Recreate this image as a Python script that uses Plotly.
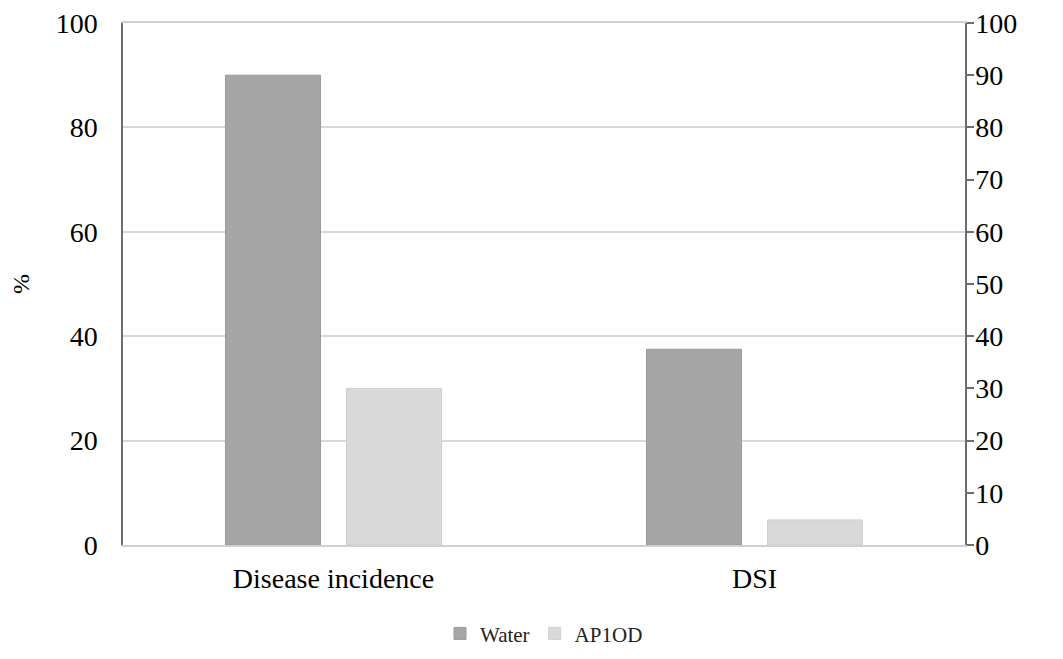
import plotly.graph_objects as go

categories = ["Disease incidence", "DSI"]
water = [90, 37.5]
ap1od = [30, 4.8]
left_ticks = [0, 20, 40, 60, 80, 100]
right_ticks = [0, 10, 20, 30, 40, 50, 60, 70, 80, 90, 100]

FONT = "Liberation Serif"

fig = go.Figure()
fig.add_trace(go.Bar(x=categories, y=water, name="Water",
                     marker=dict(color="#a6a6a6", line=dict(color="#9a9a9a", width=1))))
fig.add_trace(go.Bar(x=categories, y=ap1od, name="AP1OD",
                     marker=dict(color="#d9d9d9", line=dict(color="#cfcfcf", width=1))))
# invisible trace to carry the secondary axis
fig.add_trace(go.Scatter(x=categories, y=[None, None], yaxis="y2", showlegend=False,
                         hoverinfo="skip", mode="markers", marker=dict(opacity=0)))

fig.update_layout(
    width=1063, height=659,
    margin=dict(l=115, r=106, t=15, b=122, autoexpand=False),
    paper_bgcolor="white", plot_bgcolor="white",
    barmode="group", bargap=0.425, bargroupgap=0.215,
    font=dict(family=FONT, color="black", size=28),
    xaxis=dict(showline=True, mirror=True, linecolor="#d0d0d0", linewidth=1.5, ticks="",
               tickfont=dict(size=28, family=FONT), showgrid=False, automargin=False,
               ticklabelstandoff=8),
    yaxis=dict(range=[0, 100], tickvals=left_ticks, showgrid=True, gridcolor="#d9d9d9",
               gridwidth=1.5, zeroline=False, showline=True, linecolor="#6e6e6e", linewidth=1.5,
               ticks="", tickfont=dict(size=28, family=FONT), ticklabelstandoff=18,
               automargin=False, ticklabeloverflow="allow",
               title=dict(text="%", font=dict(size=24, family=FONT), standoff=20)),
    yaxis2=dict(range=[0, 100], tickvals=right_ticks, overlaying="y", side="right",
                showgrid=False, zeroline=False, showline=True, linecolor="#6e6e6e", linewidth=1.5,
                ticks="outside", ticklen=7, tickwidth=1.5, tickcolor="#6e6e6e",
                tickfont=dict(size=28, family=FONT), automargin=False, ticklabelstandoff=-4,
                ticklabeloverflow="allow"),
    legend=dict(orientation="h", x=0.5, xanchor="center", y=-0.170, yanchor="middle",
                font=dict(size=21, family=FONT, color="#222222"), itemwidth=30,
                traceorder="normal"),
    showlegend=True,
)

fig.write_html("out.html")
